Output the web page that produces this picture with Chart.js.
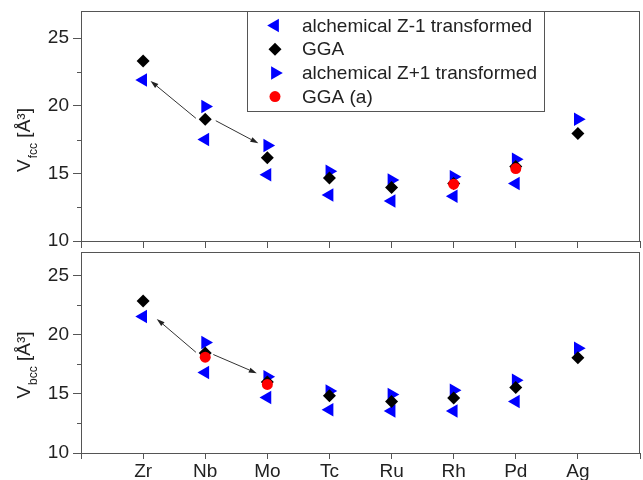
<!DOCTYPE html>
<html><head><meta charset="utf-8">
<script src="https://cdn.jsdelivr.net/npm/chart.js@4.4.1/dist/chart.umd.min.js"></script>
<style>
html,body{margin:0;padding:0;background:#fff;}
#wrap{position:relative;width:643px;height:480px;overflow:hidden;background:#fff;}
canvas{position:absolute;left:0;}
</style></head><body>
<div id="wrap">
<canvas id="c1" style="top:0px" width="643" height="262"></canvas>
<canvas id="c2" style="top:250px" width="643" height="230"></canvas>
</div>
<script>
// ---- data ----
const categories = ['Zr','Nb','Mo','Tc','Ru','Rh','Pd','Ag'];
const seriesLabels = ['alchemical Z-1 transformed','GGA','alchemical Z+1 transformed','GGA (a)'];
const fccZminus1 = [21.9, 17.5, 14.9, 13.4, 12.95, 13.3, 14.25, null];
const fccGGA     = [23.3, 19.0, 16.15, 14.65, 13.95, 14.25, 15.5, 17.95];
const fccZplus1  = [null, 19.95, 17.05, 15.15, 14.5, 14.75, 16.05, 19.0];
const fccGGAa    = [null, null, null, null, null, 14.2, 15.35, null];
const bccZminus1 = [21.55, 16.8, 14.7, 13.65, 13.55, 13.55, 14.35, null];
const bccGGA     = [22.85, 18.45, 16.0, 14.85, 14.35, 14.65, 15.55, 18.05];
const bccZplus1  = [null, 19.35, 16.45, 15.25, 14.95, 15.3, 16.15, 18.85];
const bccGGAa    = [null, 18.1, 15.8, null, null, null, null, null];
const yMajorTicks = [10, 15, 20, 25];
const yMinorTicks = [12.5, 17.5, 22.5];
const xTickValues = [-1, 0, 1, 2, 3, 4, 5, 6, 7, 8];
// arrow annotations [fromX, fromY, toX, toY] in data units
const fccArrows = [[0.85, 19.07, 0.12, 21.83], [1.17, 18.89, 1.855, 17.22]];
const bccArrows = [[0.85, 18.52, 0.22, 21.34], [1.13, 18.33, 1.83, 16.75]];

const FONT = '"Liberation Sans", Arial, sans-serif';
const AXIS = '#555';
const TXT = '#222';

function pts(arr){ return arr.map((v,i)=> v==null?null:{x:i,y:v}).filter(Boolean); }

const styles = [
  {pointStyle:'triangle', rotation:-90, radius:7.8, color:'#0000ff', order:3},
  {pointStyle:'rectRot', rotation:0, radius:6.5, color:'#000000', order:2},
  {pointStyle:'triangle', rotation:90, radius:7.8, color:'#0000ff', order:3},
  {pointStyle:'circle', rotation:0, radius:5.5, color:'#ff0000', order:1}
];

function drawMarker(ctx, st, x, y){
  ctx.save();
  ctx.fillStyle = st.color;
  ctx.beginPath();
  const r = st.radius;
  if (st.pointStyle === 'circle') {
    ctx.arc(x, y, r, 0, Math.PI*2);
  } else if (st.pointStyle === 'rectRot') {
    ctx.moveTo(x-r,y); ctx.lineTo(x,y-r); ctx.lineTo(x+r,y); ctx.lineTo(x,y+r);
  } else {
    let rad = st.rotation*Math.PI/180;
    for (let k=0;k<3;k++){
      const px = x + Math.sin(rad)*r, py = y - Math.cos(rad)*r;
      if(k===0) ctx.moveTo(px,py); else ctx.lineTo(px,py);
      rad += 2*Math.PI/3;
    }
  }
  ctx.closePath();
  ctx.fill();
  ctx.restore();
}

function makePlugin(cfg){
  return {
    id:'deco',
    beforeDatasetsDraw(chart){
      const ctx = chart.ctx, a = chart.chartArea, ys = chart.scales.y;
      ctx.save();
      ctx.strokeStyle = AXIS; ctx.lineWidth = 1;
      ctx.strokeRect(Math.round(a.left)+0.5, Math.round(a.top)+0.5, Math.round(a.right-a.left)-1, Math.round(a.bottom-a.top));
      // minor y ticks
      ctx.beginPath();
      yMinorTicks.forEach(v=>{
        const py = Math.round(ys.getPixelForValue(v))+0.5;
        ctx.moveTo(a.left-4, py); ctx.lineTo(a.left, py);
      });
      ctx.stroke();
      // arrows
      const xs = chart.scales.x;
      ctx.strokeStyle = '#333'; ctx.fillStyle = '#222'; ctx.lineWidth = 1;
      cfg.arrows.forEach(ar=>{
        const x1 = xs.getPixelForValue(ar[0]), y1 = ys.getPixelForValue(ar[1]);
        const x2 = xs.getPixelForValue(ar[2]), y2 = ys.getPixelForValue(ar[3]);
        const ang = Math.atan2(y2-y1, x2-x1);
        const hl = 8, hw = 2.6;
        const bx = x2 - Math.cos(ang)*hl, by = y2 - Math.sin(ang)*hl;
        ctx.beginPath(); ctx.moveTo(x1,y1); ctx.lineTo(bx,by); ctx.stroke();
        ctx.beginPath();
        ctx.moveTo(x2,y2);
        ctx.lineTo(bx - Math.sin(ang)*hw, by + Math.cos(ang)*hw);
        ctx.lineTo(bx + Math.sin(ang)*hw, by - Math.cos(ang)*hw);
        ctx.closePath(); ctx.fill();
      });
      ctx.restore();
    },
    afterDraw(chart){
      const ctx = chart.ctx;
      ctx.save();
      // y title with subscript
      ctx.translate(cfg.titleX, cfg.titleY);
      ctx.rotate(-Math.PI/2);
      ctx.fillStyle = TXT;
      ctx.textBaseline = 'alphabetic';
      ctx.textAlign = 'left';
      ctx.font = '19px ' + FONT;
      const wV = ctx.measureText('V').width;
      const wRest = ctx.measureText(' [Å³]').width;
      ctx.font = '12px ' + FONT;
      const wS = ctx.measureText(cfg.sub).width;
      const total = wV + 1 + wS + wRest;
      let u = -total/2;
      ctx.font = '19px ' + FONT;
      ctx.fillText('V', u, 0);
      ctx.font = '12px ' + FONT;
      ctx.fillText(cfg.sub, u + wV + 1, 7);
      ctx.font = '19px ' + FONT;
      ctx.fillText(' [Å³]', u + wV + 1 + wS, 0);
      ctx.restore();
      if (cfg.legend) {
        ctx.save();
        const L = cfg.legend;
        ctx.fillStyle = '#fff';
        ctx.fillRect(L.x, L.y, L.w, L.h);
        ctx.strokeStyle = AXIS; ctx.lineWidth = 1;
        ctx.strokeRect(L.x+0.5, L.y+0.5, L.w, L.h);
        ctx.font = '19px ' + FONT;
        ctx.fillStyle = TXT;
        ctx.textBaseline = 'middle';
        ctx.textAlign = 'left';
        chart.data.datasets.forEach((ds, i)=>{
          const y = L.y + L.first + i*L.step;
          drawMarker(ctx, styles[i], L.x + 28, y);
          ctx.fillText(ds.label, L.x + 55, y+1);
        });
        ctx.restore();
      }
    }
  };
}

function makeChart(id, arrays, cfg){
  const datasets = arrays.map((arr,i)=>({
    label: seriesLabels[i],
    data: pts(arr),
    pointStyle: styles[i].pointStyle,
    rotation: styles[i].rotation,
    pointRadius: styles[i].radius,
    pointHoverRadius: styles[i].radius,
    backgroundColor: styles[i].color,
    borderColor: styles[i].color,
    borderWidth: 0,
    pointBorderWidth: 0,
    order: styles[i].order,
    showLine: false
  }));
  return new Chart(document.getElementById(id), {
    type: 'scatter',
    data: { datasets },
    options: {
      responsive: false,
      animation: false,
      devicePixelRatio: 1,
      layout: { autoPadding: false, padding: { left: 0, top: cfg.padTop, right: 3, bottom: 0 } },
      plugins: { legend: { display: false }, tooltip: { enabled: false } },
      scales: {
        x: {
          type: 'linear', min: -1, max: 8,
          afterBuildTicks: s => { s.ticks = xTickValues.map(v=>({value:v})); },
          afterFit: s => { s.height = cfg.xHeight; s.paddingLeft = 0; s.paddingRight = 0; },
          grid: { drawOnChartArea: false, drawTicks: true, tickLength: cfg.xTickLen, color: AXIS },
          border: { display: false },
          ticks: {
            display: cfg.xLabels, padding: 1, autoSkip: false, maxRotation: 0,
            color: TXT, font: { family: FONT, size: 19 },
            callback: v => (v >= 0 && v < categories.length && Number.isInteger(v)) ? categories[v] : ''
          }
        },
        y: {
          type: 'linear', min: 10, max: 27,
          afterBuildTicks: s => { s.ticks = yMajorTicks.map(v=>({value:v})); },
          afterFit: s => { s.width = 81; s.paddingTop = 0; s.paddingBottom = 0; },
          grid: { drawOnChartArea: false, drawTicks: true, tickLength: 8, color: AXIS },
          border: { display: false },
          ticks: { padding: 4, color: TXT, font: { family: FONT, size: 19 }, callback: v => String(v) }
        }
      }
    },
    plugins: [makePlugin(cfg)]
  });
}

makeChart('c1', [fccZminus1, fccGGA, fccZplus1, fccGGAa], {
  padTop: 11, xHeight: 21, xTickLen: 7, xLabels: false,
  sub: 'fcc', titleX: 30, titleY: 140, arrows: fccArrows,
  legend: { x: 247, y: 11, w: 297, h: 100, first: 14.5, step: 23.7 }
});
makeChart('c2', [bccZminus1, bccGGA, bccZplus1, bccGGAa], {
  padTop: 2, xHeight: 27, xTickLen: 6, xLabels: true,
  sub: 'bcc', titleX: 30, titleY: 115, arrows: bccArrows,
  legend: null
});
</script>
</body></html>
